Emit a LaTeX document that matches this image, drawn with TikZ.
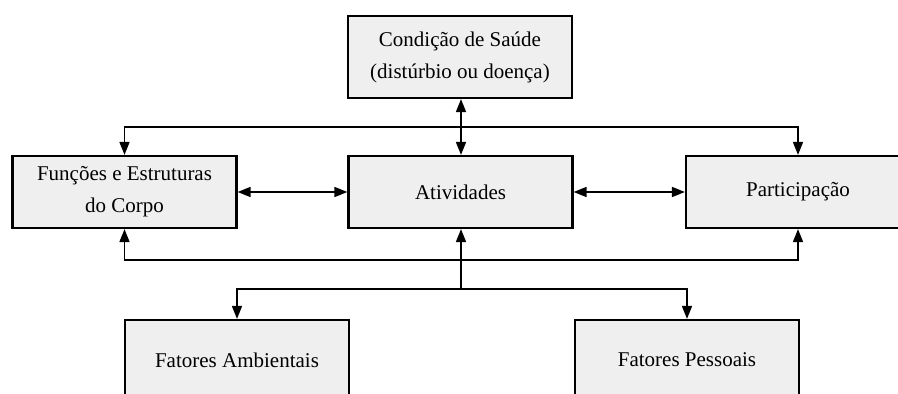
\documentclass[tikz,border=0pt]{standalone}
\usepackage{fontspec}
\setmainfont{Liberation Serif}
\usetikzlibrary{arrows.meta}

\definecolor{boxfill}{HTML}{EFEFEF}

\begin{document}
\begin{tikzpicture}[x=1pt,y=-1pt,
	>={Triangle[length=13pt,width=10pt]},
	box/.style={draw,line width=2.2pt,fill=boxfill,minimum width=224pt,minimum height=72pt,
		align=center,font=\fontsize{21}{32}\selectfont},
	link/.style={line width=1.6pt}]
	\useasboundingbox (0,0) rectangle (898,394);
	\clip (0,0) rectangle (898,394);

	% top row
	\node[box,minimum height=82pt] (saude) at (460,57) {Condição de Saúde\\(distúrbio ou doença)};

	% middle row
	\node[box] (funcoes) at (124.5,192) {Funções e Estruturas\\do Corpo};
	\node[box] (atividades) at (460.5,192) {Atividades};
	\node[box] (participacao) at (798,192) {Participação};

	% bottom row, cut off by the picture edge
	\node[box,minimum height=80pt] (ambientais) at (237,360) {Fatores Ambientais};
	\node[box,minimum height=80pt] (pessoais) at (687,360) {Fatores Pessoais};

	\coordinate (topbus) at (461,127);
	\coordinate (lowbus) at (461,260);
	\coordinate (branch) at (461,289);

	\draw[link,<->] (saude.south -| topbus) -- (atividades.north -| topbus);
	\draw[link,<->] (funcoes.north) |- (topbus) -| (participacao.north);
	\draw[link,<->] (funcoes) -- (atividades);
	\draw[link,<->] (atividades) -- (participacao);
	\draw[link,<->] (funcoes.south) |- (lowbus) -| (participacao.south);
	\draw[link,->] (branch) -- (atividades.south -| branch);
	\draw[link,<->] (ambientais.north) |- (branch) -| (pessoais.north);
\end{tikzpicture}
\end{document}
